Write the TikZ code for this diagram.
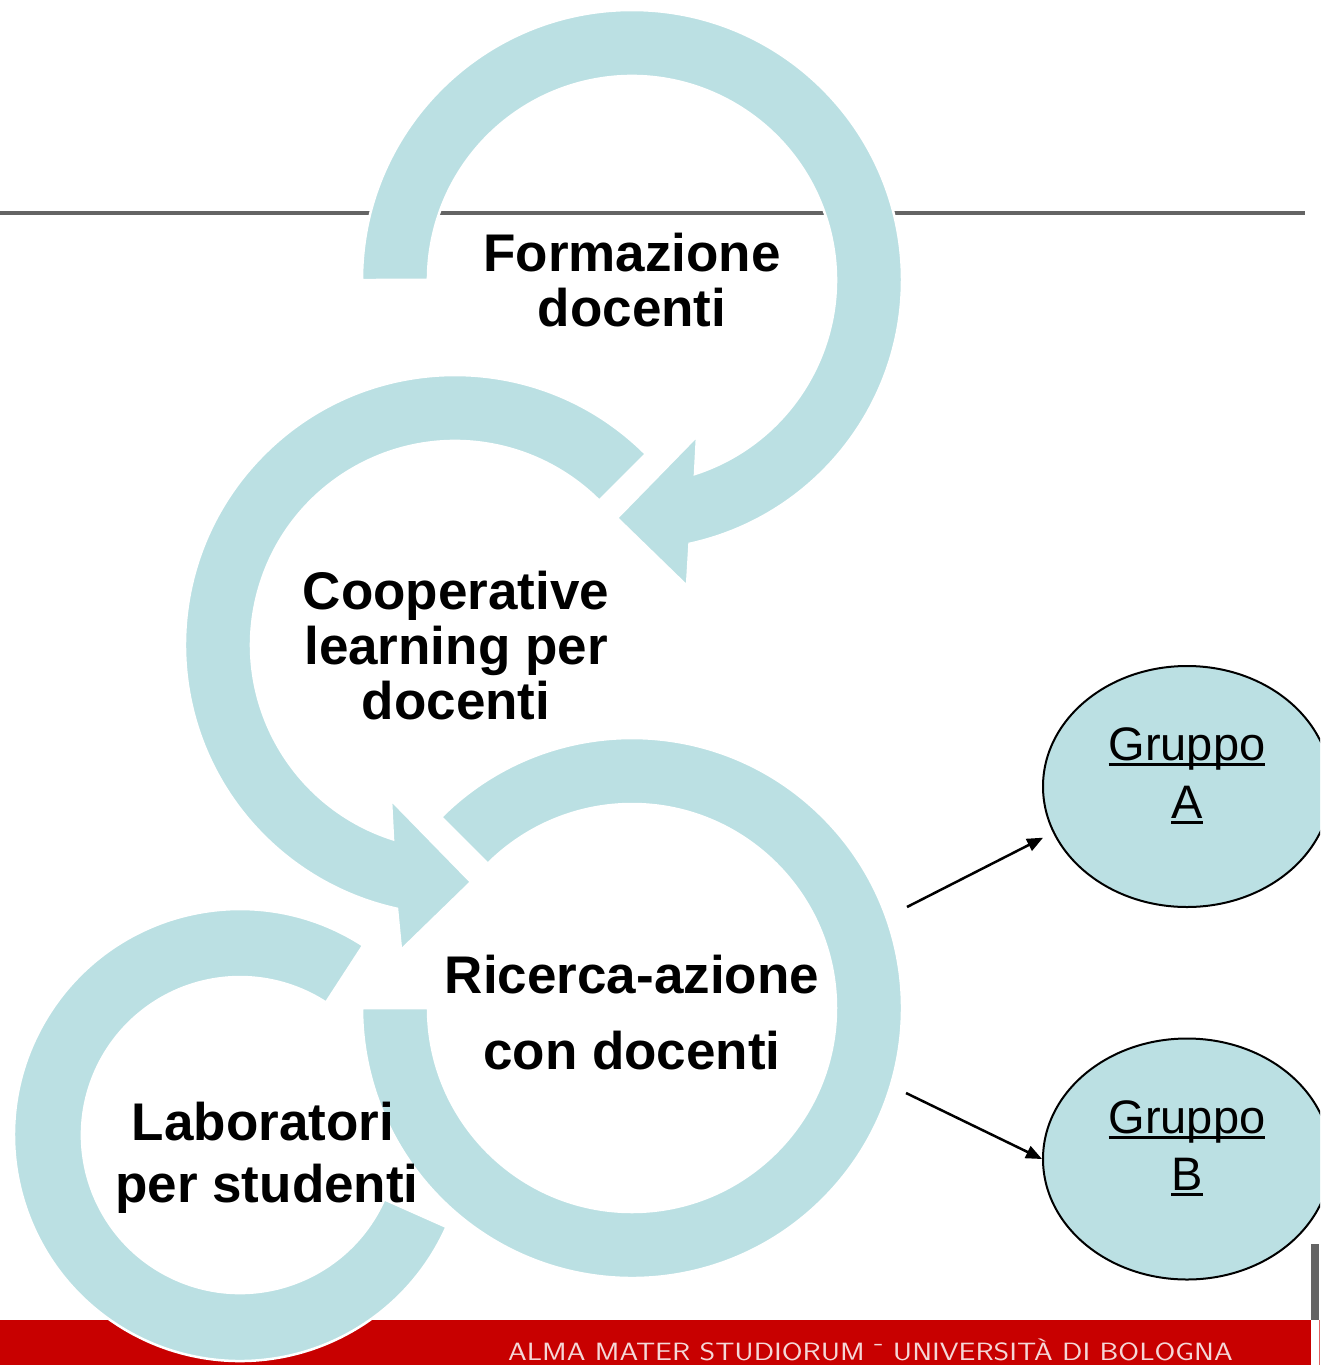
\documentclass[tikz,border=0pt]{standalone}
\usepackage{fontspec}
\setmainfont{Liberation Sans}
\usetikzlibrary{arrows.meta,shapes.geometric}
\definecolor{ringblue}{RGB}{187,224,227}
\definecolor{barred}{RGB}{200,0,0}
\definecolor{linegray}{RGB}{100,100,100}
\definecolor{barpink}{RGB}{245,215,215}
\newsavebox\ulbox
\newcommand\gul[1]{\sbox\ulbox{#1}\rlap{\rule[-0.12em]{\wd\ulbox}{0.06em}}\usebox\ulbox}
\begin{document}
\begin{tikzpicture}[x=1pt,y=1pt,
  ring/.style={fill=ringblue, draw=white, line width=2.5pt, line join=miter},
  lbl/.style={font=\bfseries\fontsize{53}{55}\selectfont, anchor=base, inner sep=0pt},
  grp/.style={ellipse, fill=ringblue, draw=black, line width=2pt, minimum width=288pt, minimum height=241pt, inner sep=0pt},
  gtxt/.style={font=\fontsize{47}{50}\selectfont, anchor=base, inner sep=0pt},
  conn/.style={-{Triangle[length=16pt,width=13pt]}, line width=2.5pt, black}]
\useasboundingbox (0,0) rectangle (1320,-1365);
\clip (0,0) rectangle (1320,-1365);
\fill[white] (0,0) rectangle (1320,-1365);
% header line and footer bar
\draw[linegray, line width=4pt] (0,-213) -- (1305,-213);
\fill[barred] (0,-1320) rectangle (1311,-1365);
\fill[linegray] (1311,-1244) rectangle (1319,-1320);
\draw[barred!60, line width=1pt] (1319.5,-1320) -- (1319.5,-1365);
\node[font=\sffamily\fontsize{25}{28}\selectfont, text=barpink, anchor=base west, inner sep=0pt] (uni) at (508,-1360) {\scalebox{1.2}[1]{ALMA MATER STUDIORUM \raisebox{0.4em}{-} UNIVERSITÀ DI BOLOGNA}};
% ring 4 (Laboratori)
\path[ring] (363.1,-945.5) arc[start angle=57, end angle=336, radius=226pt]
  -- (384.3,-1199.3) arc[start angle=336, end angle=57, radius=158pt] -- cycle;
% ring 3 (Ricerca-azione)
\path[ring] (441.1,-817.1) arc[start angle=135, end angle=-180, radius=270pt]
  -- (428,-1008) arc[start angle=-180, end angle=135, radius=204pt] -- cycle;
% ring 2 (Cooperative learning)
\path[ring] (645.9,-454.1) arc[start angle=45, end angle=257.6, radius=270pt]
  -- (401,-950) -- (471,-882) -- (391,-800)
  -- (393,-839.3) arc[start angle=252.3, end angle=45, radius=204pt] -- cycle;
% ring 1 (Formazione)
\path[ring] (362,-280) arc[start angle=180, end angle=-77.7, radius=270pt]
  -- (687,-586) -- (617,-518) -- (697,-436)
  -- (695,-474) arc[start angle=-72, end angle=180, radius=204pt] -- cycle;
% groups
\node[grp] (gA) at (1187,-786.5) {};
\node[grp] (gB) at (1187,-1159) {};
\node[gtxt] (ga1) at (1187,-760) {\gul{Gruppo}};
\node[gtxt] (ga2) at (1187,-818) {\gul{A}};
\node[gtxt] (gb1) at (1187,-1133) {\gul{Gruppo}};
\node[gtxt] (gb2) at (1187,-1190) {\gul{B}};
\coordinate (sA) at (907,-907);
\coordinate (sB) at (906,-1093);
\draw[conn, shorten >=11pt] (sA) -- (gA.199);
\draw[conn] (sB) -- (gB.west);
% labels
\node[lbl] (f1) at (632,-271) {Formazione};
\node[lbl] (f2) at (632,-326) {docenti};
\node[lbl] (c1) at (456,-609) {Cooperative};
\node[lbl] (c2) at (456,-664) {learning per};
\node[lbl] (c3) at (456,-719) {docenti};
\node[lbl] (r1) at (632,-993) {Ricerca-azione};
\node[lbl] (r2) at (632,-1069) {con docenti};
\node[lbl] (l1) at (263,-1140) {Laboratori};
\node[lbl] (l2) at (267,-1202) {per studenti};
\end{tikzpicture}
\end{document}
